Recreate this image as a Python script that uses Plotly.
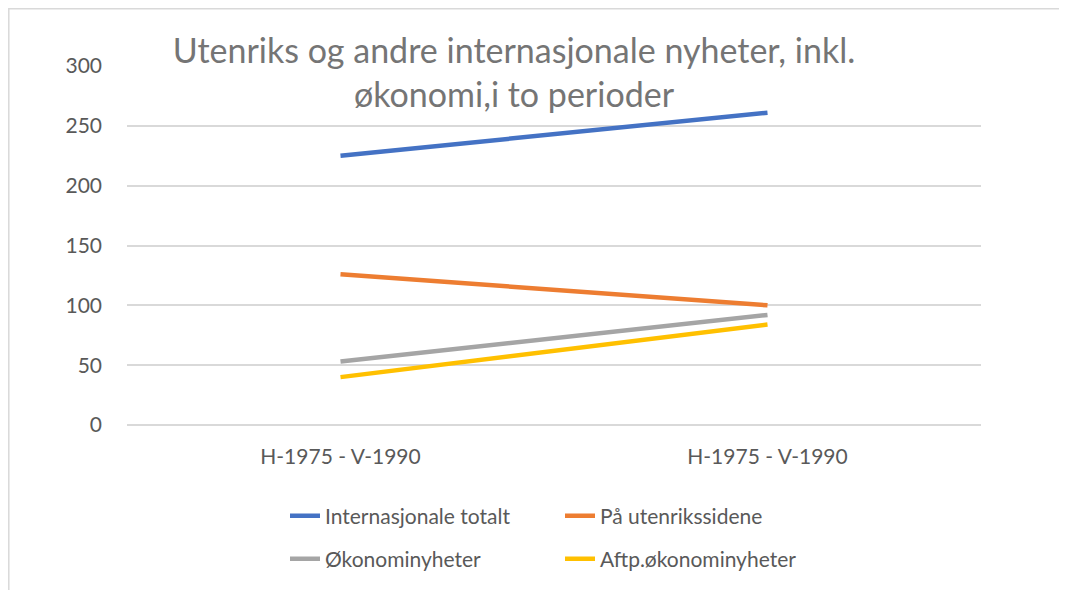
import plotly.graph_objects as go

categories = ["H-1975 - V-1990", "H-1975 - V-1990"]
internasjonale_totalt = [225, 261]
paa_utenrikssidene = [126, 100]
okonominyheter = [53, 92]
aftp_okonominyheter = [40, 84]

series_names = ["Internasjonale totalt", "På utenrikssidene", "Økonominyheter", "Aftp.økonominyheter"]
series_values = [internasjonale_totalt, paa_utenrikssidene, okonominyheter, aftp_okonominyheter]
colors = ["#4472C4", "#ED7D31", "#A5A5A5", "#FFC000"]
legend_ids = ["legend", "legend", "legend2", "legend2"]

x_pos = list(range(len(categories)))

W, H = 1067, 590
ml, mt = 119, 58
pw, ph = 854, 359
mr = W - ml - pw
mb = H - mt - ph

fig = go.Figure()
for name, vals, col, lg in zip(series_names, series_values, colors, legend_ids):
    fig.add_trace(go.Scatter(
        x=x_pos, y=vals, mode="lines", name=name,
        line=dict(color=col, width=4.5),
        legend=lg,
    ))

font_family = "Lato, 'Open Sans', sans-serif"
tick_color = "#595959"

legend_common = dict(
    orientation="h",
    xref="container", yref="container",
    x=277 / W, xanchor="left",
    yanchor="middle",
    font=dict(family=font_family, size=21, color=tick_color),
    entrywidth=230, entrywidthmode="pixels",
    bgcolor="rgba(0,0,0,0)",
    traceorder="normal",
)

fig.update_layout(
    width=W, height=H,
    margin=dict(l=ml, r=mr, t=mt, b=mb),
    paper_bgcolor="white", plot_bgcolor="white",
    title=dict(
        text="Utenriks og andre internasjonale nyheter, inkl.<br>økonomi,i to perioder",
        font=dict(family=font_family, size=34, color="#757575"),
        x=506 / W, xanchor="center", xref="container",
        y=1 - 55 / H, yanchor="top", yref="container",
    ),
    xaxis=dict(
        range=[-0.5, len(categories) - 0.5],
        tickmode="array", tickvals=x_pos, ticktext=categories,
        showgrid=False, zeroline=False, showline=False, ticks="",
        tickfont=dict(family=font_family, size=21, color=tick_color),
        ticklabelstandoff=17,
        fixedrange=True,
    ),
    yaxis=dict(
        range=[0, 300], dtick=50, tick0=0,
        showgrid=True, gridcolor="#D9D9D9", gridwidth=1.5,
        zeroline=True, zerolinecolor="#D9D9D9", zerolinewidth=1.5,
        showline=False, ticks="",
        tickfont=dict(family=font_family, size=21, color=tick_color),
        ticklabelstandoff=24,
        fixedrange=True,
    ),
    legend=dict(legend_common, y=1 - 508 / H),
    legend2=dict(legend_common, y=1 - 551 / H),
    showlegend=True,
)

# light outer chart border
fig.add_shape(
    type="rect", xref="paper", yref="paper",
    x0=(0.8 - ml) / pw, x1=(1054 - ml) / pw,
    y0=-(mb + 20) / ph, y1=1 + (mt - 0.8) / ph,
    line=dict(color="#D9D9D9", width=1.5), fillcolor="rgba(0,0,0,0)",
    layer="below",
)

fig.write_html("out.html")
